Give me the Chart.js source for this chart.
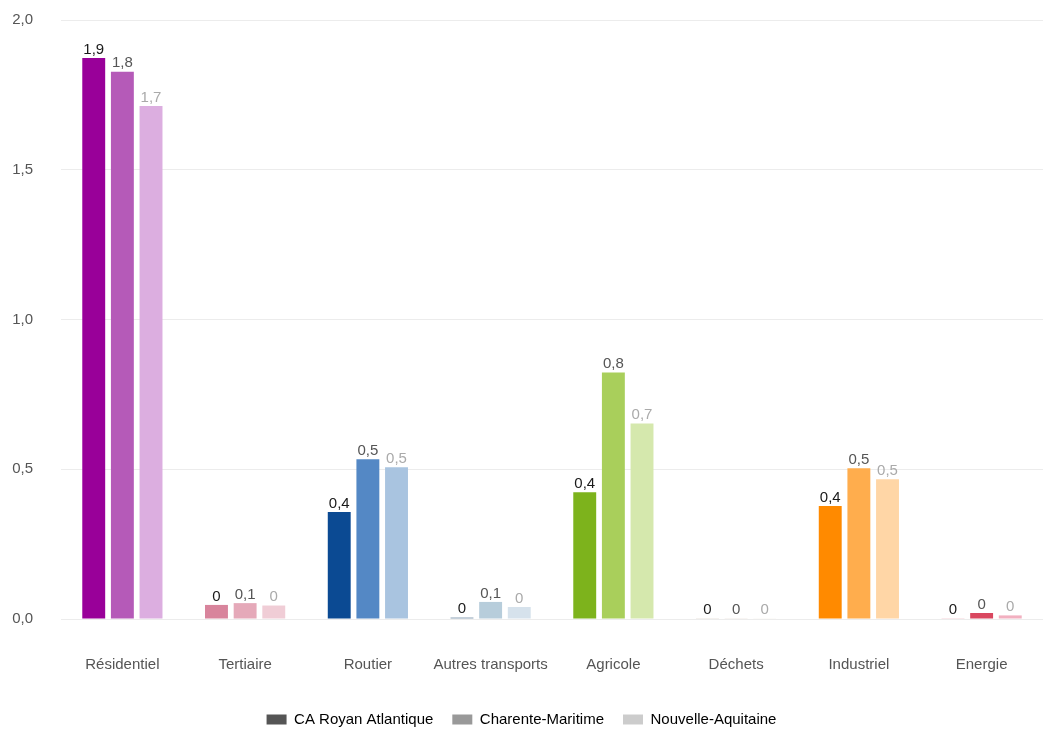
<!DOCTYPE html>
<html>
<head>
<meta charset="utf-8">
<script src="https://cdn.jsdelivr.net/npm/chart.js@4.4.0/dist/chart.umd.min.js"></script>
<style>
  html, body { margin: 0; padding: 0; background: #fff; }
  #wrap { width: 1051px; height: 733px; position: relative; overflow: hidden; }
  #inner { position: absolute; left: 0; top: -17px; width: 1051px; height: 750px; }
</style>
</head>
<body>
<div id="wrap"><div id="inner"><canvas id="chart"></canvas></div></div>
<script>
// Secteurs et valeurs par territoire
const secteurs = ['Résidentiel', 'Tertiaire', 'Routier', 'Autres transports', 'Agricole', 'Déchets', 'Industriel', 'Energie'];
const territoires = ['CA Royan Atlantique', 'Charente-Maritime', 'Nouvelle-Aquitaine'];
const royan = [1.873, 0.047, 0.357, 0.005, 0.423, 0.002, 0.377, 0.002];
const charente = [1.827, 0.053, 0.533, 0.057, 0.823, 0.002, 0.503, 0.02];
const aquitaine = [1.713, 0.045, 0.507, 0.04, 0.653, 0.002, 0.467, 0.012];
const yTicks = [0, 0.5, 1, 1.5, 2];

// une teinte par secteur : foncé / moyen / clair
const couleursFonce = ['#990099', '#d8849c', '#0b4a93', '#8aa0b5', '#7db31c', '#8c6d4f', '#ff8a00', '#c8223f'];
const couleursMoyen = ['#b55ab8', '#e5a9b9', '#5488c5', '#b7cddb', '#a9cf5b', '#b79d84', '#ffad4d', '#d9475f'];
const couleursClair = ['#dcaee0', '#f0cdd6', '#a9c4e0', '#d6e2ec', '#d5e8ad', '#ddd0c2', '#ffd6a6', '#f2b0c0'];
const legendeGris = ['#555555', '#999999', '#cccccc'];
const labelCouleurs = ['#1a1a1a', '#555555', '#aaaaaa'];
const police = '"Liberation Sans", Arial, sans-serif';

function fmt(v) {
  const r = Math.round(v * 10) / 10;
  return r === 0 ? '0' : r.toFixed(1).replace('.', ',');
}

// étiquettes de valeur au-dessus des barres
const valeurs = {
  id: 'valeurs',
  afterDatasetsDraw(chart) {
    const ctx = chart.ctx;
    ctx.save();
    ctx.font = '15px ' + police;
    ctx.textAlign = 'center';
    ctx.textBaseline = 'bottom';
    chart.data.datasets.forEach((ds, i) => {
      chart.getDatasetMeta(i).data.forEach((bar, j) => {
        ctx.fillStyle = labelCouleurs[i];
        ctx.fillText(fmt(ds.data[j]), bar.x, bar.y - 1);
      });
    });
    ctx.restore();
  }
};

new Chart(document.getElementById('chart'), {
  type: 'bar',
  data: {
    labels: secteurs,
    datasets: [
      { label: territoires[0], data: royan, backgroundColor: couleursFonce },
      { label: territoires[1], data: charente, backgroundColor: couleursMoyen },
      { label: territoires[2], data: aquitaine, backgroundColor: couleursClair }
    ]
  },
  options: {
    responsive: true,
    maintainAspectRatio: false,
    animation: false,
    layout: { padding: { top: 12, right: 8, left: 0, bottom: -4 } },
    datasets: { bar: { categoryPercentage: 0.7, barPercentage: 0.8 } },
    plugins: {
      legend: {
        position: 'bottom',
        labels: {
          boxWidth: 20, boxHeight: 10, padding: 19,
          color: '#333',
          font: { size: 15, family: police },
          generateLabels: chart => territoires.map((t, i) => ({
            text: t, fillStyle: legendeGris[i], strokeStyle: legendeGris[i], lineWidth: 0, datasetIndex: i
          }))
        }
      },
      tooltip: { enabled: false }
    },
    scales: {
      x: {
        grid: { display: false },
        border: { display: false },
        afterFit: axis => { axis.height = 74; },
        ticks: { color: '#555', padding: 29, font: { size: 15, family: police } }
      },
      y: {
        min: 0, max: 2,
        afterBuildTicks: axis => { axis.ticks = yTicks.map(v => ({ value: v })); },
        afterFit: axis => { axis.width = 61; },
        grid: { color: '#ececec', drawTicks: false },
        border: { display: false },
        ticks: {
          color: '#555', padding: 28,
          font: { size: 15, family: police },
          callback: v => v.toFixed(1).replace('.', ',')
        }
      }
    }
  },
  plugins: [valeurs]
});
</script>
</body>
</html>
